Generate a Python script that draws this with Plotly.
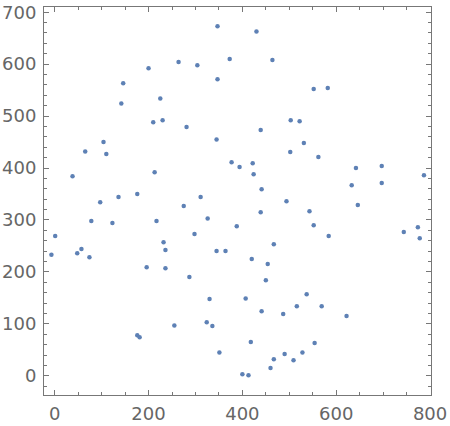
import plotly.graph_objects as go

xs = [-7, 1, 38, 48, 57, 65, 74, 78, 97, 104, 110, 123, 136, 142, 146, 176, 176, 181, 196, 200,
      210, 213, 217, 225, 230, 232, 236, 236, 255, 264, 275, 281, 287, 298, 304, 311, 326, 324, 330, 336,
      347, 345, 347, 345, 351, 364, 373, 377, 388, 394, 400, 407, 413, 418, 420, 422, 424, 430, 439, 441,
      439, 441, 450, 454, 460, 464, 467, 467, 487, 490, 494, 502, 503, 509, 516, 522, 531, 528, 537, 543,
      552, 552, 554, 562, 569, 582, 584, 622, 633, 642, 646, 697, 697, 744, 774, 778, 787]
ys = [233, 269, 384, 236, 244, 432, 228, 298, 334, 450, 427, 294, 344, 524, 563, 350, 78, 74, 209, 592,
      488, 392, 298, 534, 492, 257, 242, 207, 97, 604, 327, 479, 190, 273, 598, 344, 303, 103, 148, 96,
      673, 455, 571, 240, 45, 240, 610, 411, 288, 402, 3, 149, 1, 65, 225, 409, 388, 663, 473, 359,
      315, 124, 184, 215, 15, 608, 253, 32, 119, 42, 336, 431, 492, 30, 134, 490, 448, 45, 157, 317,
      290, 552, 63, 421, 134, 554, 269, 115, 367, 400, 329, 404, 371, 277, 286, 265, 386]

x_ticks = [0, 200, 400, 600, 800]
y_ticks = [0, 100, 200, 300, 400, 500, 600, 700]

fig = go.Figure(go.Scatter(x=xs, y=ys, mode="markers",
                           marker=dict(color="rgb(94,129,181)", size=4.5, line=dict(width=0))))

axis_common = dict(showgrid=False, zeroline=False, showline=True, linecolor="#777777", linewidth=1,
                   mirror="ticks", ticks="inside", tickcolor="#777777", ticklen=5, tickwidth=1,
                   automargin=False,
                   tickfont=dict(family="DejaVu Sans", size=18, color="#666666"))

fig.update_xaxes(range=[-22.8, 802], tickvals=x_ticks, ticktext=[str(v) for v in x_ticks],
                 minor=dict(dtick=50, tick0=0, ticks="inside", ticklen=3, tickcolor="#777777"),
                 ticklabelstandoff=2, **axis_common)
fig.update_yaxes(range=[-37, 710], tickvals=y_ticks, ticktext=[str(v) for v in y_ticks],
                 minor=dict(dtick=20, tick0=0, ticks="inside", ticklen=3, tickcolor="#777777"),
                 ticklabelstandoff=3, **axis_common)

fig.update_layout(width=450, height=426, margin=dict(l=44, r=19, t=7, b=30.5),
                  plot_bgcolor="white", paper_bgcolor="white", showlegend=False)

fig.write_html("out.html", config={"displayModeBar": False},
               post_script="document.body.style.margin='0';document.body.style.overflow='hidden';")
